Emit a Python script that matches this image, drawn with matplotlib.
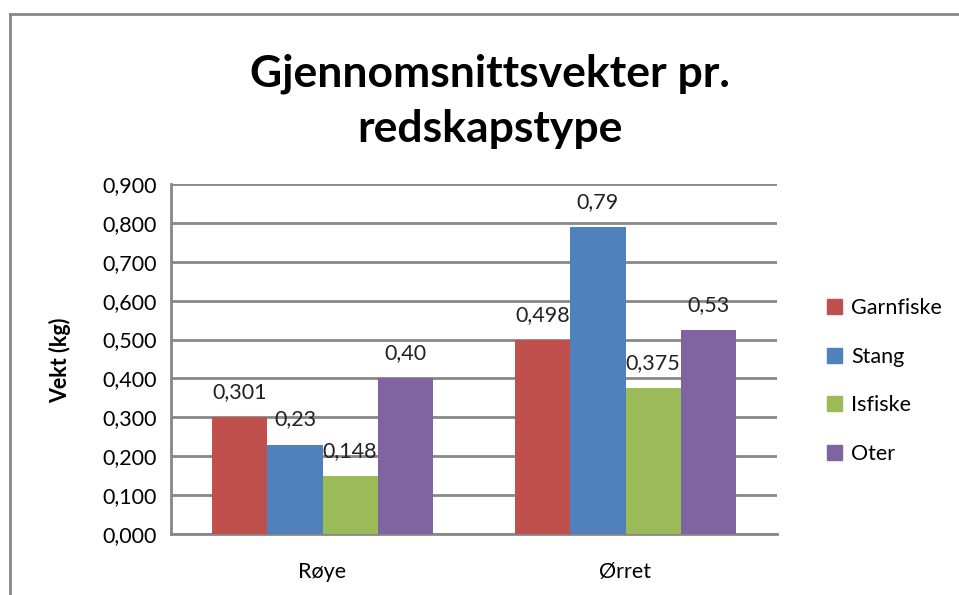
import matplotlib
matplotlib.use("Agg")
import matplotlib.pyplot as plt
from matplotlib.lines import Line2D
import numpy as np

plt.rcParams['font.family'] = ['Lato', 'DejaVu Sans']

categories = ["Røye", "Ørret"]
series = ["Garnfiske", "Stang", "Isfiske", "Oter"]
values = {
    "Garnfiske": [0.301, 0.498],
    "Stang": [0.23, 0.79],
    "Isfiske": [0.148, 0.375],
    "Oter": [0.40, 0.525],
}
labels = {
    "Garnfiske": ["0,301", "0,498"],
    "Stang": ["0,23", "0,79"],
    "Isfiske": ["0,148", "0,375"],
    "Oter": ["0,40", "0,53"],
}
colors = ["#C0504D", "#4F81BD", "#9BBB59", "#8064A2"]
yticks = [0.0, 0.1, 0.2, 0.3, 0.4, 0.5, 0.6, 0.7, 0.8, 0.9]
ytick_labels = ["0,000", "0,100", "0,200", "0,300", "0,400", "0,500",
                "0,600", "0,700", "0,800", "0,900"]

W, H = 959, 595
FS = 15.5
fig = plt.figure(figsize=(W / 100, H / 100), dpi=100)
ax = fig.add_axes([171 / W, 1 - 534 / H, (777 - 171) / W, (534 - 184) / H])

x = np.arange(len(categories))
bw = 1.0 / (len(series) + 1.5)
for i, (s, c) in enumerate(zip(series, colors)):
    pos = x + (i - (len(series) - 1) / 2) * bw
    ax.bar(pos, values[s], width=bw, color=c, zorder=3, linewidth=0)
    for p, v, lab in zip(pos, values[s], labels[s]):
        ax.annotate(lab, (p, v), xytext=(0, 25), textcoords="offset pixels",
                    ha="center", va="center", fontsize=FS, color="#222222", zorder=4)

ax.set_xlim(-0.5, len(categories) - 0.5)
ax.set_ylim(0, 0.9)
ax.set_yticks(yticks)
ax.set_yticklabels(ytick_labels, fontsize=FS)
ax.set_xticks(x)
ax.set_xticklabels(categories, fontsize=FS)
ax.tick_params(length=0, pad=10)
ax.tick_params(axis='x', pad=20)
ax.grid(axis='y', color="#878787", linewidth=2, zorder=0)
for side in ["top", "right"]:
    ax.spines[side].set_visible(False)
for side in ["left", "bottom"]:
    ax.spines[side].set_color("#878787")
    ax.spines[side].set_linewidth(2)

fig.text(60 / W, 1 - 360 / H, "Vekt (kg)", rotation=90, ha="center", va="center",
         fontsize=FS, fontweight="bold")
fig.text(490 / W, 1 - 101 / H, "Gjennomsnittsvekter pr.\nredskapstype", ha="center",
         va="center", fontsize=32, fontweight="bold", linespacing=1.45)

handles = [plt.Rectangle((0, 0), 1, 1, color=c) for c in colors]
fig.legend(handles, series, loc="center left", bbox_to_anchor=(808 / W, 1 - 381 / H),
           frameon=False, fontsize=FS, handlelength=0.7, handleheight=0.7,
           handletextpad=0.4, labelspacing=1.32)

fig.add_artist(Line2D([10 / W, 10 / W], [0, 1 - 14 / H], transform=fig.transFigure,
                      color="#878787", linewidth=2))
fig.add_artist(Line2D([10 / W, 1], [1 - 14 / H, 1 - 14 / H], transform=fig.transFigure,
                      color="#878787", linewidth=2))

fig.savefig("out.png", dpi=100)
